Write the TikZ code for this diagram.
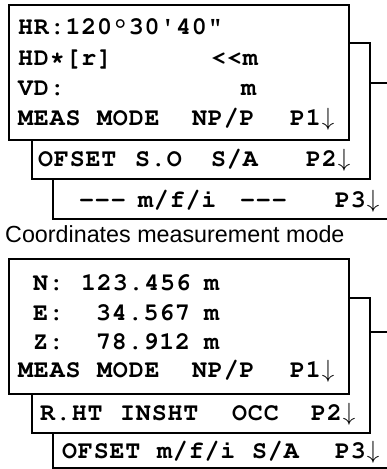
\documentclass[tikz,border=0pt]{standalone}
\usepackage[T1]{fontenc}
\usepackage{fontspec}
\newfontfamily\capfont{Liberation Sans}
\newcommand\lcdfont{\fontencoding{T1}\fontfamily{pcr}\fontseries{b}\fontshape{n}\fontsize{25}{25}\selectfont}
\newcommand\arr{$\downarrow$}
\def\lcdloop#1{\ifx#1\relax\else\makebox[15.8pt][l]{#1}\expandafter\lcdloop\fi}
\newcommand\lcd[1]{\lcdloop#1\relax}
\begin{document}
\begin{tikzpicture}[x=1pt,y=-1pt,
  box/.style={draw=black,fill=white,line width=1.8pt,rectangle,inner sep=0pt},
  wire/.style={draw=black,line width=1.8pt},
  lcdtext/.style={anchor=base west,inner sep=0pt,font=\lcdfont},
  captext/.style={anchor=base west,inner sep=0pt,font=\capfont\fontsize{23.3}{23.3}\selectfont}]
\useasboundingbox (0,0) rectangle (387,469);
% ---------- top panel ----------
\coordinate (a3tl) at (53,179);
\coordinate (a3br) at (387,219);
\draw[wire] (a3tl) |- (a3br);
\node[box,minimum width=338pt,minimum height=136pt] (a2) at (201,111) {};
\node[box,minimum width=340pt,minimum height=135pt] (a1) at (179,72.5) {};
\coordinate (ae) at (387,83);
\draw[wire] (ae -| a2.east) -- (ae);
\node[lcdtext] (a11) at (18,34) {\lcd{HR:120\textdegree30\textquotesingle40\textquotedbl}};
\node[lcdtext] (a21) at (18,65) {\lcd{HD*[r]}};
\node[lcdtext] (a22) at (211,65) {\lcd{<<m}};
\node[lcdtext] (a31) at (18,95) {\lcd{VD:}};
\node[lcdtext] (a32) at (241,95) {\lcd{m}};
\node[lcdtext] (a41) at (18,125) {\lcd{MEAS}};
\node[lcdtext] (a42) at (97,125) {\lcd{MODE}};
\node[lcdtext] (a43) at (192,125) {\lcd{NP/P}};
\node[lcdtext] (a44) at (290,125) {\lcd{P1\arr}};
\node[lcdtext] (a51) at (38,166) {\lcd{OFSET}};
\node[lcdtext] (a52) at (135,166) {\lcd{S.O}};
\node[lcdtext] (a53) at (211,166) {\lcd{S/A}};
\node[lcdtext] (a54) at (306,166) {\lcd{P2\arr}};
\node[lcdtext] (a61) at (79,207) {\lcd{---}};
\node[lcdtext] (a62) at (138,207) {\lcd{m/f/i}};
\node[lcdtext] (a63) at (240,207) {\lcd{---}};
\node[lcdtext] (a64) at (335,207) {\lcd{P3\arr}};
% ---------- caption ----------
\node[captext] (capt) at (5,242) {Coordinates measurement mode};
% ---------- bottom panel ----------
\coordinate (b3tl) at (53,433);
\coordinate (b3br) at (387,468);
\draw[wire] (b3tl) |- (b3br);
\node[box,minimum width=338pt,minimum height=135pt] (b2) at (201,365.5) {};
\node[box,minimum width=340pt,minimum height=135pt] (b1) at (179,326.5) {};
\coordinate (be) at (387,332);
\draw[wire] (be -| b2.east) -- (be);
\node[lcdtext] (b11) at (33,290) {\lcd{N:}};
\node[lcdtext] (b12) at (81,290) {\lcd{123.456}};
\node[lcdtext] (b13) at (204,290) {\lcd{m}};
\node[lcdtext] (b21) at (33,320) {\lcd{E:}};
\node[lcdtext] (b22) at (96,320) {\lcd{34.567}};
\node[lcdtext] (b23) at (204,320) {\lcd{m}};
\node[lcdtext] (b31) at (33,349) {\lcd{Z:}};
\node[lcdtext] (b32) at (96,349) {\lcd{78.912}};
\node[lcdtext] (b33) at (204,349) {\lcd{m}};
\node[lcdtext] (b41) at (18,377) {\lcd{MEAS}};
\node[lcdtext] (b42) at (97,377) {\lcd{MODE}};
\node[lcdtext] (b43) at (192,377) {\lcd{NP/P}};
\node[lcdtext] (b44) at (290,377) {\lcd{P1\arr}};
\node[lcdtext] (b51) at (40,420) {\lcd{R.HT}};
\node[lcdtext] (b52) at (120,420) {\lcd{INSHT}};
\node[lcdtext] (b53) at (232,420) {\lcd{OCC}};
\node[lcdtext] (b54) at (311,420) {\lcd{P2\arr}};
\node[lcdtext] (b61) at (62,458) {\lcd{OFSET}};
\node[lcdtext] (b62) at (157,458) {\lcd{m/f/i}};
\node[lcdtext] (b63) at (252,458) {\lcd{S/A}};
\node[lcdtext] (b64) at (335,458) {\lcd{P3\arr}};
\end{tikzpicture}
\end{document}
